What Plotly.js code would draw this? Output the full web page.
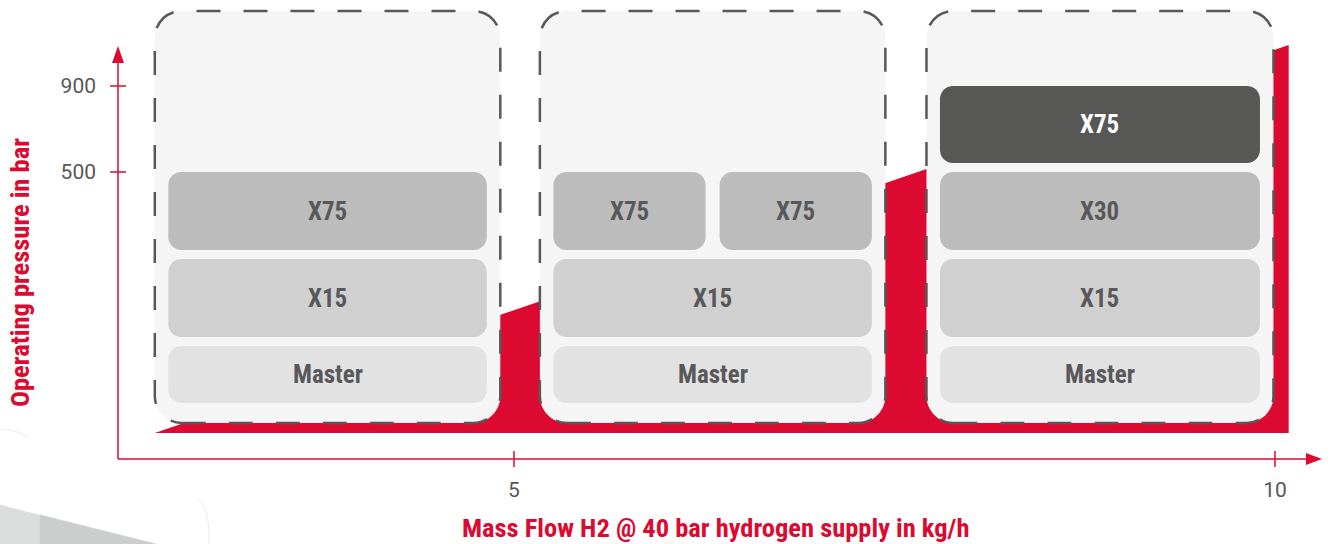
<!DOCTYPE html>
<html>
<head>
<meta charset="utf-8">
<script src="https://cdn.plot.ly/plotly-3.0.1.min.js"></script>
<style>html,body{margin:0;padding:0;background:#fff;}#chart{width:1330px;height:544px;}</style>
</head>
<body>
<div id="chart"></div>
<script>
// ---------- data ----------
// configurations: mass-flow range covered by each dashed group (kg/h)
const groupFlowFrom = [2.64, 5.17, 7.71];
const groupFlowTo   = [4.91, 7.44, 9.99];
// modules stacked in each group, bottom to top; a row may hold several side-by-side modules
const groupModules = [
  [["Master"], ["X15"], ["X75"]],
  [["Master"], ["X15"], ["X75", "X75"]],
  [["Master"], ["X15"], ["X30"], ["X75"]]
];
// pressure levels (schematic): level of each stack row band, bottom/top
const rowLevelBottom = [56, 122, 209, 296];
const rowLevelTop    = [113, 200, 287, 373];
// y-axis tick labels sit at the tops of rows 3 and 4
const pressureTickText = ["500", "900"];
const pressureTickRow  = [2, 3];
// red capacity envelope (mass flow, level)
const envelopeFlow  = [2.64, 10.09, 10.09];
const envelopeLevel = [26, 26, 414];
// x-axis ticks
const flowTicks = [5, 10];

// ---------- styles ----------
const RED = "#dc0a30";
const moduleColor = {"Master": "#e2e2e2", "X15": "#d0d0d0", "X30": "#bcbcbc", "X75": "#bcbcbc"};
const DARK = "#575755";
const TXT = "#58585a";
const COND = "'Liberation Sans Narrow', 'Roboto Condensed', 'DejaVu Sans Condensed', sans-serif";

// ---------- geometry helpers ----------
const W = 1330, H = 544;
const xRange = [1.6229, 10.3614];
const yRange = [-85, 459];
const pxX = (W) / (xRange[1] - xRange[0]);   // px per x unit
const pxY = (H) / (yRange[1] - yRange[0]);   // px per y unit
const dx = p => p / pxX, dy = p => p / pxY;

function roundRect(x0, x1, y0, y1, r) {
  const rx = dx(r), ry = dy(r), k = 0.5523;
  return `M${x0 + rx},${y0} L${x1 - rx},${y0} C${x1 - rx + k * rx},${y0} ${x1},${y0 + ry - k * ry} ${x1},${y0 + ry} ` +
         `L${x1},${y1 - ry} C${x1},${y1 - ry + k * ry} ${x1 - rx + k * rx},${y1} ${x1 - rx},${y1} ` +
         `L${x0 + rx},${y1} C${x0 + rx - k * rx},${y1} ${x0},${y1 - ry + k * ry} ${x0},${y1 - ry} ` +
         `L${x0},${y0 + ry} C${x0},${y0 + ry - k * ry} ${x0 + rx - k * rx},${y0} ${x0 + rx},${y0} Z`;
}

const shapes = [];
const annotations = [];
const boxLevelBottom = 36, boxLevelTop = 448;

// dashed groups
groupFlowFrom.forEach((f0, g) => {
  const f1 = groupFlowTo[g];
  shapes.push({type: "path", xref: "x", yref: "y", layer: "above",
    path: roundRect(f0, f1, boxLevelBottom, boxLevelTop, 27),
    fillcolor: "#f5f5f5", line: {color: "#58585a", width: 2.5, dash: "24px,23px"}});
  const inset = dx(13.5), gap = dx(14);
  groupModules[g].forEach((row, r) => {
    const n = row.length;
    const span = (f1 - f0 - 2 * inset - gap * (n - 1)) / n;
    row.forEach((m, i) => {
      const a = f0 + inset + i * (span + gap), b = a + span;
      const dark = (g === 2 && r === 3);
      shapes.push({type: "path", xref: "x", yref: "y", layer: "above",
        path: roundRect(a, b, rowLevelBottom[r], rowLevelTop[r], 13),
        fillcolor: dark ? DARK : moduleColor[m], line: {width: 0}});
      annotations.push({x: (a + b) / 2, y: (rowLevelBottom[r] + rowLevelTop[r]) / 2, xref: "x", yref: "y",
        xanchor: "center", yanchor: "middle",
        text: "<b>" + m + "</b>", showarrow: false,
        font: {family: COND, size: 25, color: dark ? "#ffffff" : TXT}});
    });
  });
});

// axes (drawn lines + arrowheads + crossing ticks)
const xAxisFlow0 = xRange[0] + dx(118), xAxisFlow1 = xRange[0] + dx(1322);
const yAxisLevel1 = yRange[0] + dy(H - 46);
shapes.push({type: "line", xref: "x", yref: "y", x0: xAxisFlow0, x1: xAxisFlow1 - dx(10), y0: 0, y1: 0,
  line: {color: RED, width: 1.5}, layer: "above"});
shapes.push({type: "line", xref: "x", yref: "y", x0: xAxisFlow0, x1: xAxisFlow0, y0: 0, y1: yAxisLevel1 - dy(10),
  line: {color: RED, width: 1.5}, layer: "above"});
shapes.push({type: "path", xref: "x", yref: "y", layer: "above", fillcolor: RED, line: {width: 0},
  path: `M${xAxisFlow1},0 L${xAxisFlow1 - dx(16)},${dy(6)} L${xAxisFlow1 - dx(16)},${-dy(6)} Z`});
shapes.push({type: "path", xref: "x", yref: "y", layer: "above", fillcolor: RED, line: {width: 0},
  path: `M${xAxisFlow0},${yAxisLevel1} L${xAxisFlow0 - dx(6)},${yAxisLevel1 - dy(17)} L${xAxisFlow0 + dx(6)},${yAxisLevel1 - dy(17)} Z`});
flowTicks.forEach(t => shapes.push({type: "line", xref: "x", yref: "y", x0: t, x1: t, y0: -dy(8), y1: dy(8),
  line: {color: RED, width: 1.5}, layer: "above"}));
const yTickVals = pressureTickRow.map(r => rowLevelTop[r]);
yTickVals.forEach(v => shapes.push({type: "line", xref: "x", yref: "y", x0: xAxisFlow0 - dx(8), x1: xAxisFlow0 + dx(8),
  y0: v, y1: v, line: {color: RED, width: 1.5}, layer: "above"}));

// decorative swoosh bottom-left
shapes.push({type: "path", xref: "paper", yref: "paper", layer: "below", fillcolor: "#dcdede", line: {width: 0},
  path: "M0,0.072 L0.118,0 L0,0 Z"});
shapes.push({type: "path", xref: "paper", yref: "paper", layer: "below", fillcolor: "#c4c8c8", line: {width: 0},
  path: "M0.03,0.054 L0.118,0 L0.03,0 Z", opacity: 0.7});
shapes.push({type: "path", xref: "paper", yref: "paper", layer: "below", line: {color: "#ececec", width: 1},
  path: "M0.148,0.085 Q0.158,0.07 0.157,0"});
shapes.push({type: "path", xref: "paper", yref: "paper", layer: "below", line: {color: "#ececec", width: 1},
  path: "M0,0.21 Q0.012,0.212 0.022,0.195"});

// titles
annotations.push({xref: "paper", yref: "paper", x: 715 / W, y: 1 - 527 / H, xanchor: "center", yanchor: "middle",
  showarrow: false,
  text: "<b>Mass Flow H2 @ 40 bar hydrogen supply in kg/h</b>",
  font: {family: COND, size: 26.5, color: RED}});
annotations.push({xref: "paper", yref: "paper", x: 19 / W, y: 1 - 273 / H, xanchor: "center", yanchor: "middle",
  showarrow: false, textangle: -90,
  text: "<b>Operating pressure in bar</b>",
  font: {family: COND, size: 26.5, color: RED}});

const traces = [{
  type: "scatter", mode: "lines", x: envelopeFlow, y: envelopeLevel, fill: "toself",
  fillcolor: RED, line: {width: 0, color: RED}, hoverinfo: "skip", showlegend: false
}];

const layout = {
  width: W, height: H, margin: {l: 0, r: 0, t: 0, b: 0},
  paper_bgcolor: "#ffffff", plot_bgcolor: "rgba(0,0,0,0)", showlegend: false,
  xaxis: {range: xRange, domain: [0, 1], anchor: "free", position: 85 / H, showgrid: false, zeroline: false,
    showline: false, ticks: "", tickvals: flowTicks, ticktext: flowTicks.map(String), ticklabelstandoff: 16,
    tickfont: {family: "Roboto, sans-serif", size: 21, color: TXT}, fixedrange: true},
  yaxis: {range: yRange, domain: [0, 1], anchor: "free", position: 118 / W, showgrid: false, zeroline: false,
    showline: false, ticks: "", tickvals: yTickVals, ticktext: pressureTickText, ticklabelstandoff: 22,
    tickfont: {family: "Roboto, sans-serif", size: 21, color: TXT}, fixedrange: true},
  shapes: shapes, annotations: annotations
};
Plotly.newPlot("chart", traces, layout, {staticPlot: true, displayModeBar: false});
</script>
</body>
</html>
